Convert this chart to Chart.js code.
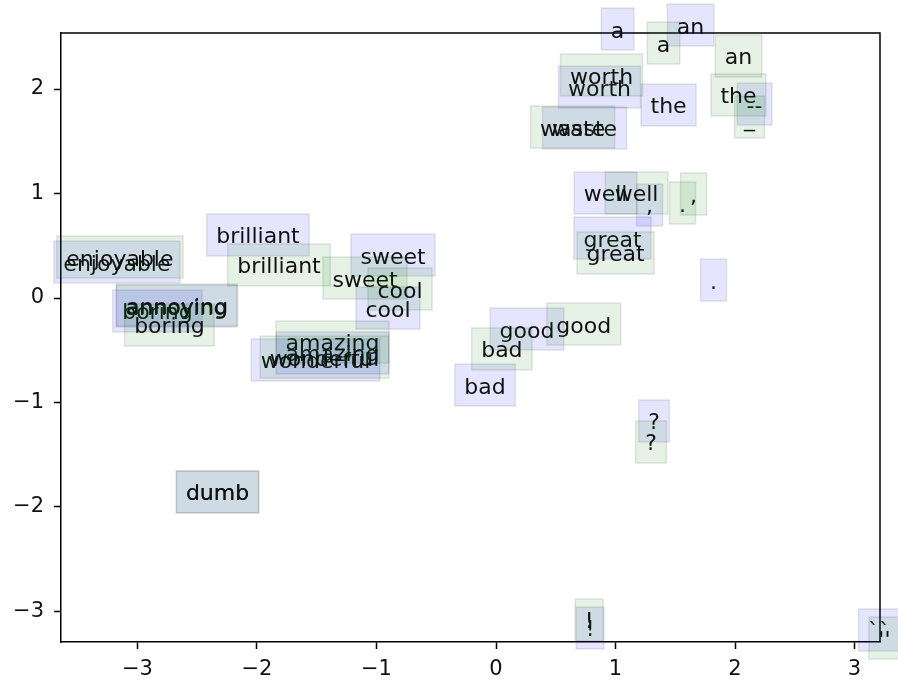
<!DOCTYPE html>
<html>
<head>
<meta charset="utf-8">
<script src="https://cdn.jsdelivr.net/npm/chart.js@4/dist/chart.umd.min.js"></script>
<style>
html,body{margin:0;padding:0;background:#fff;}
#wrap{width:898px;height:684px;}
</style>
</head>
<body>
<div id="wrap"><canvas id="c" width="898" height="684"></canvas></div>
<script>
// Blue-box words
const blueWords = ["a","an","worth","the","waste","--","well",",","great",".","enjoyable","brilliant","sweet","cool","annoying","boring","amazing","wonderful","good","bad","?","dumb","!","``"];
const blueX = [1.017,1.628,0.866,1.444,0.741,2.163,0.917,1.285,0.975,1.820,-3.172,-1.992,-0.862,-0.904,-2.674,-2.833,-1.368,-1.510,0.259,-0.092,1.322,-2.330,0.787,3.205];
const blueY = [2.574,2.612,2.019,1.847,1.627,1.856,1.005,0.890,0.574,0.172,0.344,0.603,0.411,-0.096,-0.077,-0.124,-0.526,-0.593,-0.297,-0.833,-1.177,-1.856,-3.158,-3.177];
// Green-box words
const greenWords = ["a","an","worth","the","waste","_","well",".",",","great","enjoyable","brilliant","sweet","cool","annoying","boring","amazing","wonderful","good","bad","?","dumb","!","''"];
const greenX = [1.402,2.029,0.883,2.029,0.641,2.121,1.176,1.561,1.653,1.000,-3.147,-1.816,-1.096,-0.803,-2.668,-2.733,-1.368,-1.435,0.734,0.049,1.297,-2.330,0.779,3.250];
const greenY = [2.440,2.316,2.134,1.943,1.636,1.732,1.005,0.909,0.995,0.431,0.392,0.316,0.191,0.086,-0.067,-0.258,-0.421,-0.565,-0.249,-0.488,-1.378,-1.856,-3.081,-3.254];
// Axis ticks
const xTicks = [-3,-2,-1,0,1,2,3];
const yTicks = [-3,-2,-1,0,1,2];

const FONT = "'DejaVu Sans', sans-serif";
Chart.defaults.font.family = FONT;

function mk(words, xs, ys){
  return words.map((w,i)=>({x:xs[i], y:ys[i], word:w}));
}
function fmt(v){ return v < 0 ? '\u2212' + Math.abs(v) : String(v); }

const labelPlugin = {
  id: 'labels',
  beforeDatasetsDraw(chart){
    const ctx = chart.ctx, a = chart.chartArea;
    ctx.save();
    ctx.strokeStyle = '#000';
    ctx.lineWidth = 1.5;
    ctx.beginPath();
    ctx.moveTo(a.left, a.top); ctx.lineTo(a.right, a.top); ctx.lineTo(a.right, a.bottom);
    ctx.stroke();
    ctx.restore();
  },
  afterDatasetsDraw(chart){
    const ctx = chart.ctx;
    ctx.save();
    ctx.font = '22px ' + FONT;
    chart.data.datasets.forEach((ds, di) => {
      const meta = chart.getDatasetMeta(di);
      meta.data.forEach((pt, j) => {
        const w = ds.data[j].word;
        const tw = ctx.measureText(w).width;
        const bw = tw + 19, bh = 42;
        const x0 = pt.x - bw/2, y0 = pt.y - bh/2;
        ctx.fillStyle = ds.boxColor;
        ctx.fillRect(x0, y0, bw, bh);
        ctx.strokeStyle = 'rgba(0,0,0,0.1)';
        ctx.lineWidth = 1.5;
        ctx.strokeRect(x0, y0, bw, bh);
        ctx.fillStyle = '#111';
        ctx.textAlign = 'center';
        ctx.textBaseline = 'alphabetic';
        ctx.fillText(w, pt.x, pt.y + 8.5);
      });
    });
    ctx.restore();
  }
};

new Chart(document.getElementById('c'), {
  type: 'scatter',
  data: {
    datasets: [
      {label:'blue', data: mk(blueWords, blueX, blueY), boxColor:'rgba(0,0,255,0.1)', pointRadius:0, pointHoverRadius:0},
      {label:'green', data: mk(greenWords, greenX, greenY), boxColor:'rgba(0,128,0,0.1)', pointRadius:0, pointHoverRadius:0}
    ]
  },
  options: {
    responsive: false,
    animation: false,
    devicePixelRatio: 1,
    layout: {padding: {top: 33, right: 18, left: 0, bottom: 0}},
    plugins: {legend: {display:false}, tooltip: {enabled:false}},
    events: [],
    scales: {
      x: {
        type: 'linear', min: -3.640, max: 3.213,
        afterBuildTicks(s){ s.ticks = xTicks.map(v=>({value:v})); },
        afterFit(s){ s.height = 42; },
        ticks: {color:'#111', font:{size:21}, padding:8, callback: v => fmt(v), autoSkip:false, maxRotation:0},
        grid: {drawOnChartArea:false, drawTicks:true, tickLength:7, tickColor:'#000', tickWidth:1.5},
        border: {color:'#000', width:1.5}
      },
      y: {
        type: 'linear', min: -3.292, max: 2.536,
        afterBuildTicks(s){ s.ticks = yTicks.map(v=>({value:v})); },
        afterFit(s){ s.width = 61; },
        ticks: {color:'#111', font:{size:21}, padding:10, callback: v => fmt(v), autoSkip:false},
        grid: {drawOnChartArea:false, drawTicks:true, tickLength:7, tickColor:'#000', tickWidth:1.5},
        border: {color:'#000', width:1.5}
      }
    }
  },
  plugins: [labelPlugin]
});
</script>
</body>
</html>
